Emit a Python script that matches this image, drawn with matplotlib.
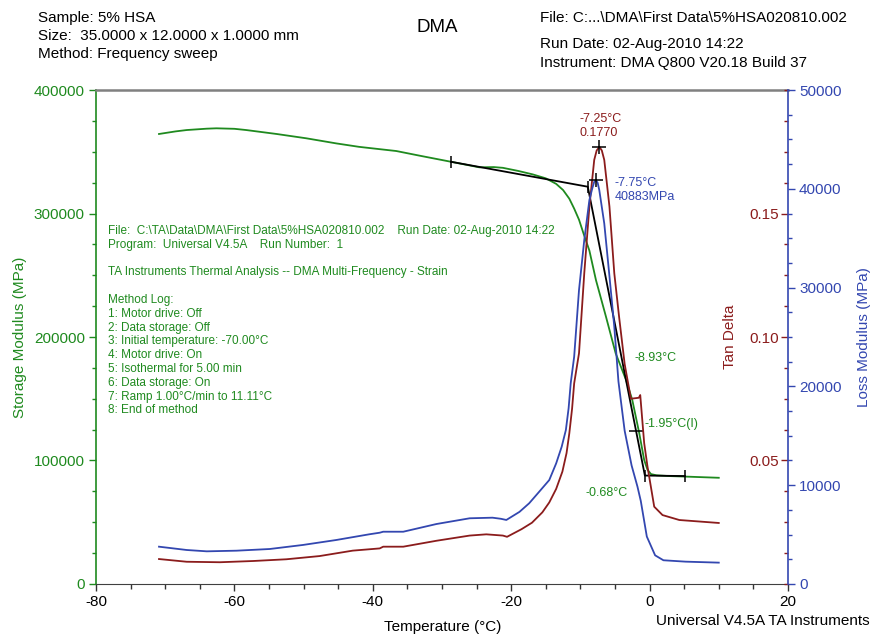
import matplotlib
matplotlib.use("Agg")
import matplotlib.pyplot as plt
from matplotlib.ticker import MultipleLocator, FormatStrFormatter

plt.rcParams['font.family'] = ['Liberation Sans', 'DejaVu Sans']
plt.rcParams['axes.unicode_minus'] = False

# --- data ---
store_T = [-70.9, -68.5, -66.9, -64.0, -62.6, -60.0, -58.3, -53.9, -49.6, -45.3,
           -42.0, -40.9, -36.6, -33.2, -28.7, -24.6, -22.5, -21.2, -19.0, -16.9,
           -15.0, -13.5, -12.5, -11.6, -10.9, -10.2, -9.5, -8.7, -7.75, -6.3,
           -4.9, -3.4, -2.5, -1.5, -0.78, -0.3, 0.2, 1.0, 2.8, 6.0, 10.0]
store_S = [364400, 366500, 367600, 368700, 369000, 368600, 367600, 364400, 360900, 356800,
           354000, 353300, 350600, 346800, 341900, 337400, 337600, 337000, 334500, 331700,
           328500, 324000, 319000, 312000, 304000, 295000, 283000, 270000, 246100, 216400,
           186800, 165200, 149000, 122300, 100400, 92500, 89000, 88000, 87400, 86800, 86000]

tan_T = [-70.9, -66.9, -62.1, -57.3, -52.5, -47.7, -42.9, -39.0, -38.5, -35.6,
         -30.8, -26.0, -23.6, -21.2, -20.6, -18.5, -17.0, -15.5, -14.5, -13.5,
         -12.6, -12.0, -11.6, -11.2, -10.9, -10.2, -9.44, -8.7, -8.0, -7.65,
         -7.25, -6.9, -6.55, -5.8, -5.1, -4.4, -3.6, -2.7, -1.55, -1.35,
         -0.78, -0.3, 0.67, 1.87, 4.3, 10.0]
tan_D = [0.0101, 0.0090, 0.0088, 0.0093, 0.0100, 0.0113, 0.0135, 0.0144, 0.0151, 0.0151,
         0.0175, 0.0196, 0.0201, 0.0196, 0.0191, 0.0222, 0.0248, 0.0290, 0.0330, 0.0385,
         0.0455, 0.0530, 0.0610, 0.0710, 0.0812, 0.0934, 0.1258, 0.1528, 0.1717, 0.1755,
         0.1770, 0.1755, 0.1717, 0.1528, 0.1258, 0.1080, 0.0890, 0.0750, 0.0754, 0.0765,
         0.0570, 0.0475, 0.0313, 0.0279, 0.0259, 0.0247]

loss_T = [-70.9, -66.9, -64.0, -59.7, -54.9, -50.1, -45.3, -40.5, -39.0, -38.5,
          -35.6, -30.8, -26.0, -22.7, -21.5, -20.7, -18.8, -17.4, -16.0, -14.5,
          -13.5, -12.7, -12.1, -11.7, -11.4, -10.9, -10.2, -9.44, -8.7, -8.3,
          -8.0, -7.75, -7.5, -7.27, -6.55, -5.84, -5.1, -4.5, -3.6, -2.6,
          -1.75, -1.27, -0.4, 0.8, 2.0, 5.2, 10.0]
loss_M = [3775, 3440, 3305, 3370, 3540, 3950, 4450, 5030, 5190, 5290,
          5290, 6070, 6650, 6710, 6600, 6480, 7300, 8170, 9300, 10520,
          12210, 13900, 15580, 17800, 20310, 23000, 29750, 34810, 38860, 40000,
          40710, 40883, 40600, 39870, 36500, 31440, 26040, 20500, 15500, 12000,
          9850, 8400, 4800, 2900, 2400, 2260, 2160]

# tangent construction on storage modulus
tang_T = [-28.7, -8.93, -0.68, 5.1]
tang_S = [341900, 321700, 87800, 87400]
infl_T, infl_S = -1.95, 124100
tan_peak = (-7.25, 0.1770)
loss_peak = (-7.75, 40883)

method_log = [
    "File:  C:\\TA\\Data\\DMA\\First Data\\5%HSA020810.002    Run Date: 02-Aug-2010 14:22",
    "Program:  Universal V4.5A    Run Number:  1",
    "",
    "TA Instruments Thermal Analysis -- DMA Multi-Frequency - Strain",
    "",
    "Method Log:",
    "1: Motor drive: Off",
    "2: Data storage: Off",
    "3: Initial temperature: -70.00\u00b0C",
    "4: Motor drive: On",
    "5: Isothermal for 5.00 min",
    "6: Data storage: On",
    "7: Ramp 1.00\u00b0C/min to 11.11\u00b0C",
    "8: End of method",
]

green = '#1f8a1f'
red = '#8b1c1c'
blue = '#3347b0'

fig = plt.figure(figsize=(8.73, 6.34), dpi=100)
ax = fig.add_axes([0.110, 0.0789, 0.7926, 0.7791])
ax_tan = ax.twinx()
ax_loss = ax.twinx()

# storage modulus axis
ax.plot(store_T, store_S, color=green, lw=1.3)
ax.plot(tang_T, tang_S, color='black', lw=1.3)
ax.plot(tang_T, tang_S, ls='none', marker='|', ms=9, mew=1.1, color='black')
ax.plot([infl_T], [infl_S], ls='none', marker='_', ms=10, mew=1.1, color='black')
ax.set_xlim(-80, 20)
ax.set_ylim(0, 400000)
ax.xaxis.set_major_locator(MultipleLocator(20))
ax.xaxis.set_minor_locator(MultipleLocator(5))
ax.yaxis.set_major_locator(MultipleLocator(100000))
ax.yaxis.set_minor_locator(MultipleLocator(25000))
ax.yaxis.set_major_formatter(FormatStrFormatter('%d'))
ax.tick_params(axis='y', which='major', length=5, width=1, color=green, labelcolor=green, labelsize=11, pad=3)
ax.tick_params(axis='y', which='minor', length=3, width=1, color=green)
ax.tick_params(axis='x', which='major', length=5, width=1, color='#333333', labelsize=11, pad=3)
ax.tick_params(axis='x', which='minor', length=3.5, width=1, color='#333333')
ax.spines['left'].set_color(green)
ax.spines['left'].set_linewidth(1.2)
ax.spines['top'].set_color('#808080')
ax.spines['top'].set_linewidth(1.8)
ax.spines['bottom'].set_color('#404040')
ax.spines['right'].set_visible(False)
ax.set_ylabel('Storage Modulus (MPa)', color=green, fontsize=11)
ax.yaxis.set_label_coords(-0.100, 0.5)
ax.set_xlabel('Temperature (\u00b0C)', fontsize=11)
ax.xaxis.set_label_coords(0.5015, -0.073)

ax.text(-78.3, 290700, "\n".join(method_log), color=green, fontsize=8.5,
        va='top', ha='left', linespacing=1.2)
ax.text(-2.2, 183000, "-8.93\u00b0C", color=green, fontsize=9, va='center')
ax.text(-0.78, 129500, "-1.95\u00b0C(I)", color=green, fontsize=9, va='center')
ax.text(-9.3, 73700, "-0.68\u00b0C", color=green, fontsize=9, va='center')

# tan delta axis
ax_tan.plot(tan_T, tan_D, color=red, lw=1.3)
ax_tan.plot([tan_peak[0]], [tan_peak[1]], ls='none', marker='+', ms=10, mew=1.1, color='black')
ax_tan.set_ylim(0, 0.2)
ax_tan.set_yticks([0.05, 0.10, 0.15])
ax_tan.yaxis.set_minor_locator(MultipleLocator(0.0125))
ax_tan.yaxis.set_major_formatter(FormatStrFormatter('%.2f'))
ax_tan.tick_params(axis='y', which='major', direction='in', length=5, width=1, color=red,
                   labelcolor=red, labelsize=11, pad=-6.5)
ax_tan.tick_params(axis='y', which='minor', direction='in', length=3, width=1, color=red)
for lab in ax_tan.get_yticklabels():
    lab.set_horizontalalignment('right')
for sp in ax_tan.spines.values():
    sp.set_visible(False)
ax_tan.set_ylabel('Tan Delta', color=red, fontsize=11)
ax_tan.yaxis.set_label_coords(0.906, 0.5)
ax_tan.text(-10.2, 0.1854, "-7.25\u00b0C\n0.1770", color=red, fontsize=9, va='center', linespacing=1.3)

# loss modulus axis
ax_loss.plot(loss_T, loss_M, color=blue, lw=1.3)
ax_loss.plot([loss_peak[0]], [loss_peak[1]], ls='none', marker='+', ms=10, mew=1.1, color='black')
ax_loss.set_ylim(0, 50000)
ax_loss.yaxis.set_major_locator(MultipleLocator(10000))
ax_loss.yaxis.set_minor_locator(MultipleLocator(2500))
ax_loss.yaxis.set_major_formatter(FormatStrFormatter('%d'))
ax_loss.tick_params(axis='y', which='major', length=5, width=1, color=blue, labelcolor=blue, labelsize=11, pad=3)
ax_loss.tick_params(axis='y', which='minor', length=3, width=1, color=blue)
for name in ['left', 'top', 'bottom']:
    ax_loss.spines[name].set_visible(False)
ax_loss.spines['right'].set_color(blue)
ax_loss.spines['right'].set_linewidth(1.2)
ax_loss.set_ylabel('Loss Modulus (MPa)', color=blue, fontsize=11)
ax_loss.yaxis.set_label_coords(1.0997, 0.5)
ax_loss.text(-5.1, 39870, "-7.75\u00b0C\n40883MPa", color=blue, fontsize=9, va='center', linespacing=1.3)

# header
fig.text(0.0435, 0.9716, "Sample: 5% HSA", fontsize=11, va='center')
fig.text(0.0435, 0.9432, "Size:  35.0000 x 12.0000 x 1.0000 mm", fontsize=11, va='center')
fig.text(0.0435, 0.9148, "Method: Frequency sweep", fontsize=11, va='center')
fig.text(0.5006, 0.9574, "DMA", fontsize=13.5, ha='center', va='center')
fig.text(0.6186, 0.9716, "File: C:...\\DMA\\First Data\\5%HSA020810.002", fontsize=11, va='center')
fig.text(0.6186, 0.9306, "Run Date: 02-Aug-2010 14:22", fontsize=11, va='center')
fig.text(0.6186, 0.9006, "Instrument: DMA Q800 V20.18 Build 37", fontsize=11, va='center')
fig.text(0.9966, 0.0205, "Universal V4.5A TA Instruments", fontsize=11, ha='right', va='center')

fig.savefig('out.png', dpi=100)
